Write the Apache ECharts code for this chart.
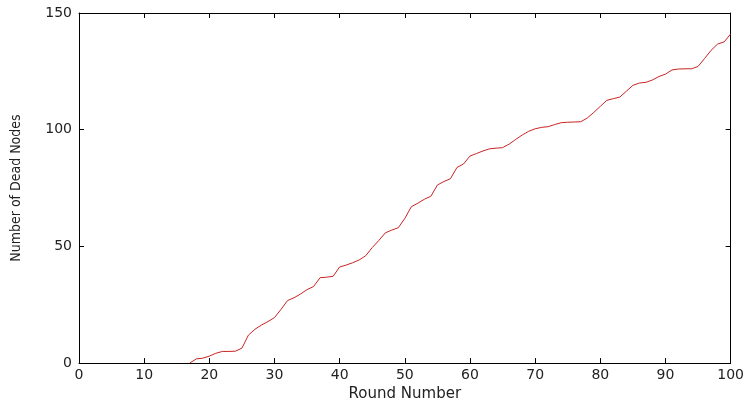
<!DOCTYPE html>
<html>
<head>
<meta charset="utf-8">
<script src="https://cdn.jsdelivr.net/npm/echarts@6/dist/echarts.min.js"></script>
<style>
html,body{margin:0;padding:0;background:#fff;}
#chart{width:747px;height:407px;}
</style>
</head>
<body>
<div id="chart"></div>
<script>
var rounds = [17,18,19,20,21,22,23,24,25,26,27,28,29,30,31,32,33,34,35,36,37,38,39,40,41,42,43,44,45,46,47,48,49,50,51,52,53,54,55,56,57,58,59,60,61,62,63,64,65,66,67,68,69,70,71,72,73,74,75,76,77,78,79,80,81,82,83,84,85,86,87,88,89,90,91,92,93,94,95,96,97,98,99,100];
var deadNodes = [0,1.8,2.1,3,4.2,5,5,5.1,6.4,12,14.5,16.3,17.8,19.5,23,26.8,28,29.6,31.5,32.8,36.6,36.8,37.2,41.2,42,43,44.2,46,49.5,52.5,55.8,57,58,62,67,68.5,70.2,71.5,76.3,77.8,79,83.8,85.3,88.7,89.8,90.9,91.8,92.1,92.3,93.8,95.8,97.7,99.3,100.4,101,101.3,102.2,103,103.2,103.3,103.4,105,107.4,110,112.6,113.3,114,116.5,119,120,120.3,121.3,122.8,123.8,125.6,126,126.1,126.1,127.1,130.5,134,136.7,137.6,141];
var xTicks = [0,10,20,30,40,50,60,70,80,90,100];
var yTicks = [0,50,100,150];
var xTitle = 'Round Number';
var yTitle = 'Number of Dead Nodes';

var pts = rounds.map(function(r,i){return [r, deadNodes[i]];});
var chart = echarts.init(document.getElementById('chart'), null, {renderer:'canvas'});
var lbl = {color:'#222', fontFamily:'DejaVu Sans', fontSize:14};
var axLine = {show:true, onZero:false, lineStyle:{color:'#000', width:1}};
var tick = {show:true, inside:true, length:5, lineStyle:{color:'#000'}};
chart.setOption({
  animation:false,
  backgroundColor:'#fff',
  grid:{left:79, right:16, top:13, bottom:42, containLabel:false},
  xAxis:[{
    type:'value', min:xTicks[0], max:xTicks[xTicks.length-1], interval:10,
    position:'bottom',
    name:xTitle, nameLocation:'middle', nameGap:18,
    nameTextStyle:{color:'#222', fontFamily:'DejaVu Sans', fontSize:15},
    axisLine:axLine, axisTick:tick, splitLine:{show:false},
    axisLabel:Object.assign({margin:5}, lbl)
  },{
    type:'value', min:xTicks[0], max:xTicks[xTicks.length-1], interval:10,
    position:'top', axisLine:axLine, axisTick:tick, splitLine:{show:false},
    axisLabel:{show:false}
  }],
  yAxis:[{
    type:'value', min:yTicks[0], max:yTicks[yTicks.length-1], interval:50,
    position:'left',
    name:yTitle, nameLocation:'middle', nameGap:56, nameRotate:90,
    nameTextStyle:{color:'#222', fontFamily:'DejaVu Sans Condensed', fontSize:14},
    axisLine:axLine, axisTick:tick, splitLine:{show:false},
    axisLabel:Object.assign({margin:7}, lbl)
  },{
    type:'value', min:yTicks[0], max:yTicks[yTicks.length-1], interval:50,
    position:'right', axisLine:axLine, axisTick:tick, splitLine:{show:false},
    axisLabel:{show:false}
  }],
  series:[{
    type:'line', data:pts, showSymbol:false, symbol:'none',
    lineStyle:{color:'#c82424', width:1}, xAxisIndex:0, yAxisIndex:0
  }]
});
</script>
</body>
</html>
